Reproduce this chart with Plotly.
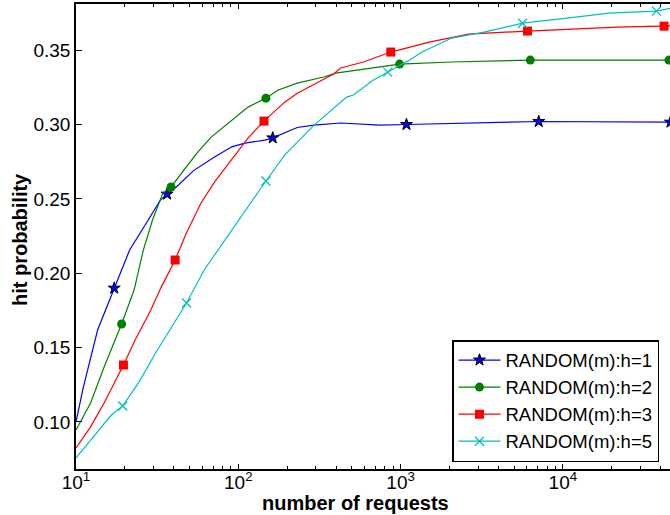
import plotly.graph_objects as go

# ---------------- data ----------------
h1_x = [10, 11.1, 13.6, 17.2, 21.4, 28.3, 33, 36.4, 41.5, 53, 71, 91, 110, 146, 163, 231, 293, 427, 590, 746, 1087, 2000, 7100, 46000]
h1_y = [0.100, 0.1235, 0.162, 0.190, 0.2156, 0.237, 0.249, 0.2532, 0.258, 0.269, 0.278, 0.285, 0.2875, 0.2895, 0.291, 0.298, 0.2996, 0.301, 0.300, 0.2996, 0.300, 0.3005, 0.302, 0.3016]
h1_mx = [17.2, 36.4, 163, 1087, 7100, 46000]
h1_my = [0.190, 0.2532, 0.291, 0.300, 0.302, 0.3016]

h2_x = [10, 12.3, 14.9, 19.1, 22.8, 26.0, 29.6, 34.3, 38.5, 55.6, 68, 91, 115, 148, 175, 231, 336, 398, 590, 986, 2065, 6300, 46000]
h2_y = [0.0946, 0.1128, 0.137, 0.1659, 0.1887, 0.2156, 0.2358, 0.2539, 0.258, 0.2808, 0.2915, 0.303, 0.3117, 0.3177, 0.323, 0.3278, 0.3319, 0.3345, 0.3372, 0.3406, 0.342, 0.3433, 0.3433]
h2_mx = [19.1, 38.5, 148, 986, 6300, 45000]
h2_my = [0.1659, 0.258, 0.3177, 0.3406, 0.3433, 0.3433]

h3_x = [10, 12.3, 14.9, 19.6, 23.1, 28.8, 33.3, 40.8, 47.9, 58.9, 71.3, 95.7, 104, 115, 144, 193, 231, 387, 427, 590, 870, 1135, 1500, 2620, 4150, 6050, 21500, 46000]
h3_y = [0.0825, 0.0967, 0.1128, 0.1383, 0.155, 0.175, 0.190, 0.2089, 0.227, 0.2472, 0.2613, 0.2794, 0.285, 0.291, 0.3023, 0.315, 0.321, 0.334, 0.338, 0.342, 0.3487, 0.352, 0.3554, 0.3608, 0.3621, 0.3628, 0.3655, 0.3663]
h3_mx = [19.6, 40.8, 144, 870, 6050, 42000]
h3_my = [0.1383, 0.2089, 0.3023, 0.3487, 0.3628, 0.3661]

h5_x = [10, 12.3, 16.5, 19.4, 24.5, 30.9, 39.7, 48, 61.6, 68, 100, 148, 193, 255, 293, 465, 512, 676, 833, 1135, 1358, 2065, 3270, 5640, 10600, 19300, 37700, 46000]
h5_y = [0.0758, 0.0879, 0.1047, 0.1108, 0.127, 0.1464, 0.165, 0.180, 0.2022, 0.2089, 0.2358, 0.262, 0.2794, 0.2929, 0.2996, 0.3184, 0.3198, 0.3298, 0.3352, 0.3433, 0.3487, 0.3581, 0.3621, 0.3681, 0.3715, 0.3749, 0.3762, 0.3782]
h5_mx = [19.4, 48, 148, 833, 5640, 37700]
h5_my = [0.1108, 0.180, 0.262, 0.3352, 0.3681, 0.3762]

names = ["RANDOM(m):h=1", "RANDOM(m):h=2", "RANDOM(m):h=3", "RANDOM(m):h=5"]
x_ticks = [10, 100, 1000, 10000]
x_ticktext = ["10<sup>1</sup>", "10<sup>2</sup>", "10<sup>3</sup>", "10<sup>4</sup>"]
y_ticks = [0.10, 0.15, 0.20, 0.25, 0.30, 0.35]
y_ticktext = ["0.10", "0.15", "0.20", "0.25", "0.30", "0.35"]
x_title = "number of requests"
y_title = "hit probability"

# ---------------- styles ----------------
FONT = "Liberation Sans, Arial, Helvetica, sans-serif"
series = [
    (h1_x, h1_y, h1_mx, h1_my, "#0000ff", dict(symbol="star", size=9, color="#0000ff", line=dict(color="black", width=1))),
    (h2_x, h2_y, h2_mx, h2_my, "#008000", dict(symbol="circle", size=9, color="#008000", line=dict(color="#008000", width=0))),
    (h3_x, h3_y, h3_mx, h3_my, "#ff0000", dict(symbol="square", size=9, color="#ff0000", line=dict(color="#ff0000", width=0))),
    (h5_x, h5_y, h5_mx, h5_my, "#00bfbf", dict(symbol="x-thin", size=9, color="#00bfbf", line=dict(color="#00bfbf", width=1.3))),
]

fig = go.Figure()
for (lx, ly, mx, my, col, mk), nm in zip(series, names):
    fig.add_trace(go.Scatter(x=lx, y=ly, mode="lines", line=dict(color=col, width=1.2),
                             showlegend=False, legendgroup=nm, hoverinfo="skip"))
    fig.add_trace(go.Scatter(x=mx, y=my, mode="markers", marker=mk,
                             showlegend=False, legendgroup=nm))
    # legend entry
    fig.add_trace(go.Scatter(x=[None], y=[None], mode="lines+markers", name=nm,
                             line=dict(color=col, width=1.2), marker=mk, legendgroup=nm))

minor_vals = [k * 10 ** d for d in range(1, 5) for k in range(2, 10) if k * 10 ** d < 46000]

fig.update_layout(
    width=670, height=515,
    margin=dict(l=76, r=0, t=4, b=46, autoexpand=False),
    paper_bgcolor="white", plot_bgcolor="white",
    font=dict(family=FONT, size=19, color="black"),
    showlegend=True,
    legend=dict(x=(452 - 76) / 594, y=(469 - 340) / 465, xanchor="left", yanchor="top",
                bgcolor="white", bordercolor="black", borderwidth=1.5,
                font=dict(family=FONT, size=18.5, color="black"),
                tracegroupgap=0, itemwidth=42),
    xaxis=dict(type="log", range=[1, 4.66], showgrid=False, zeroline=False,
               showline=True, linecolor="black", linewidth=1.5, mirror="allticks",
               ticks="inside", ticklen=5, tickwidth=1, tickcolor="black",
               tickvals=x_ticks, ticktext=x_ticktext, ticklabelstandoff=-5,
               tickfont=dict(family=FONT, size=19, color="black"),
               minor=dict(tickvals=minor_vals, ticks="inside", ticklen=3, tickwidth=1, tickcolor="black")),
    yaxis=dict(range=[0.0684, 0.381], showgrid=False, zeroline=False,
               showline=True, linecolor="black", linewidth=1.5, mirror=False,
               ticks="inside", ticklen=6, tickwidth=1, tickcolor="black",
               tickvals=y_ticks, ticktext=y_ticktext,
               tickfont=dict(family=FONT, size=19, color="black")),
    annotations=[
        dict(text="<b>" + x_title + "</b>", xref="paper", yref="paper",
             x=(355 - 76) / 594, y=(469 - 503) / 465, xanchor="center", yanchor="middle",
             showarrow=False, font=dict(family=FONT, size=20, color="black")),
        dict(text="<b>" + y_title + "</b>", xref="paper", yref="paper", textangle=-90,
             x=(20 - 76) / 594, y=(469 - 240) / 465, xanchor="center", yanchor="middle",
             showarrow=False, font=dict(family=FONT, size=20, color="black")),
    ],
)

fig.write_html("out.html", config={"displayModeBar": False},
               post_script="document.body.style.margin='0px';")
